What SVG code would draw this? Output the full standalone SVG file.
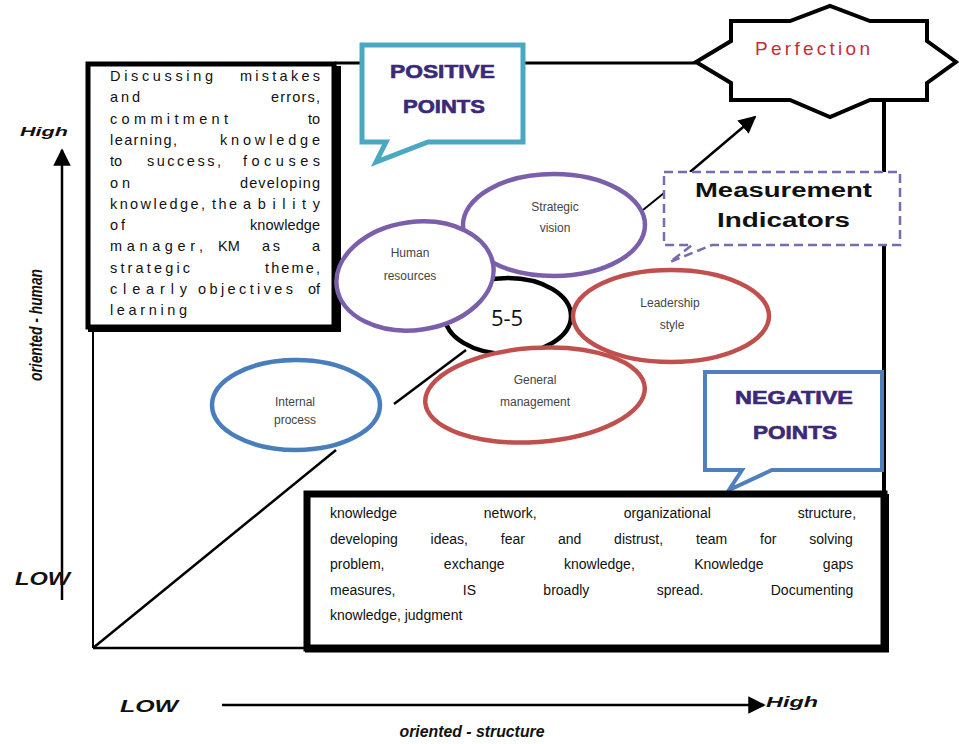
<svg xmlns="http://www.w3.org/2000/svg" width="959" height="744" viewBox="0 0 959 744">
<style>
.lw{font-family:"Liberation Sans",Arial,sans-serif;font-size:14.5px;fill:#111}
.bt{font-family:"Liberation Sans",Arial,sans-serif;font-size:14px;fill:#111}
.ax{font-family:"Liberation Sans",Arial,sans-serif;font-style:italic;font-weight:bold;fill:#111}
.el{fill:#fff;stroke-width:4.5}
.eltxt{font-family:"Liberation Sans",Arial,sans-serif;font-size:12px;fill:#444;text-anchor:middle}
.pts{font-family:"Liberation Sans",Arial,sans-serif;font-weight:900;font-size:18px;fill:#3b2a78;stroke:#3b2a78;stroke-width:0.6}
.ln{stroke:#000;fill:none}
</style>
<defs>
<marker id="ah" viewBox="0 0 10 10" refX="9" refY="5" markerWidth="7" markerHeight="7" orient="auto">
<path d="M0,0 L10,5 L0,10 Z" fill="#000"/>
</marker>
</defs>
<rect width="959" height="744" fill="#fff"/>

<g id="frame">
<line class="ln" x1="93" y1="63" x2="93" y2="648" stroke-width="2"/>
<line class="ln" x1="93" y1="648" x2="305" y2="648" stroke-width="2.5"/>
<line class="ln" x1="335" y1="63" x2="696" y2="63" stroke-width="3"/>
<line class="ln" x1="884" y1="100" x2="884" y2="650" stroke-width="4"/>
</g>

<g id="connectors">
<line class="ln" x1="93" y1="648" x2="336" y2="450" stroke-width="2.5"/>
<line class="ln" x1="394" y1="404" x2="466" y2="350" stroke-width="2.5"/>
<line class="ln" x1="643" y1="210" x2="664" y2="193" stroke-width="2"/>
<line class="ln" x1="690" y1="172" x2="755" y2="117" stroke-width="2.5" marker-end="url(#ah)"/>
<line class="ln" x1="62" y1="600" x2="62" y2="150" stroke-width="2.5" marker-end="url(#ah)"/>
<line class="ln" x1="222" y1="705" x2="764" y2="705" stroke-width="2.5" marker-end="url(#ah)"/>
</g>

<g id="axis-labels">
<text class="ax" x="20" y="136" font-size="13" textLength="48" lengthAdjust="spacingAndGlyphs">High</text>
<text class="ax" x="15" y="585" font-size="18" textLength="55" lengthAdjust="spacingAndGlyphs">LOW</text>
<text class="ax" x="120" y="712" font-size="17" textLength="58" lengthAdjust="spacingAndGlyphs">LOW</text>
<text class="ax" x="766" y="707" font-size="14" textLength="52" lengthAdjust="spacingAndGlyphs">High</text>
<text class="ax" x="472" y="737" font-size="17" font-weight="900" text-anchor="middle" textLength="145" lengthAdjust="spacingAndGlyphs">oriented - structure</text>
<text class="ax" transform="translate(42,325) rotate(-90)" font-size="18" font-weight="900" text-anchor="middle" textLength="112" lengthAdjust="spacingAndGlyphs">oriented - human</text>
</g>

<g id="positive-text-box">
<rect x="88" y="64" width="246" height="263" fill="#fff" stroke="#000" stroke-width="5"/>
<line class="ln" x1="337" y1="66" x2="337" y2="331" stroke-width="8"/>
<line class="ln" x1="88" y1="329" x2="341" y2="329" stroke-width="6"/>
<text class="lw" x="110" y="81" textLength="103" lengthAdjust="spacing">Discussing</text>
<text class="lw" x="240" y="81" textLength="80" lengthAdjust="spacing">mistakes</text>
<text class="lw" x="110" y="102" textLength="30" lengthAdjust="spacing">and</text>
<text class="lw" x="271" y="102" textLength="49" lengthAdjust="spacing">errors,</text>
<text class="lw" x="110" y="124" textLength="118" lengthAdjust="spacing">commitment</text>
<text class="lw" x="308" y="124">to</text>
<text class="lw" x="110" y="145" textLength="67" lengthAdjust="spacing">learning,</text>
<text class="lw" x="220" y="145" textLength="100" lengthAdjust="spacing">knowledge</text>
<text class="lw" x="110" y="166">to</text>
<text class="lw" x="147" y="166" textLength="74" lengthAdjust="spacing">success,</text>
<text class="lw" x="243" y="166" textLength="77" lengthAdjust="spacing">focuses</text>
<text class="lw" x="110" y="188" textLength="20" lengthAdjust="spacing">on</text>
<text class="lw" x="240" y="188" textLength="80" lengthAdjust="spacing">developing</text>
<text class="lw" x="110" y="209" textLength="95" lengthAdjust="spacing">knowledge,</text>
<text class="lw" x="212" y="209" textLength="25" lengthAdjust="spacing">the</text>
<text class="lw" x="243" y="209" textLength="77" lengthAdjust="spacing">ability</text>
<text class="lw" x="110" y="230" textLength="15" lengthAdjust="spacing">of</text>
<text class="lw" x="250" y="230" textLength="70" lengthAdjust="spacing">knowledge</text>
<text class="lw" x="110" y="251" textLength="93" lengthAdjust="spacing">manager,</text>
<text class="lw" x="218" y="251">KM</text>
<text class="lw" x="262" y="251" textLength="18" lengthAdjust="spacing">as</text>
<text class="lw" x="312" y="251">a</text>
<text class="lw" x="110" y="273" textLength="80" lengthAdjust="spacing">strategic</text>
<text class="lw" x="265" y="273" textLength="55" lengthAdjust="spacing">theme,</text>
<text class="lw" x="110" y="294" textLength="77" lengthAdjust="spacing">clearly</text>
<text class="lw" x="198" y="294" textLength="95" lengthAdjust="spacing">objectives</text>
<text class="lw" x="308" y="294">of</text>
<text class="lw" x="110" y="315" textLength="77" lengthAdjust="spacing">learning</text>
</g>

<g id="positive-points">
<path d="M362,45 H523 V142 H428 L376,162 L386,142 H362 Z" fill="#fff" stroke="#4aa9c1" stroke-width="5" stroke-linejoin="miter"/>
<text class="pts" x="390" y="78" textLength="105" lengthAdjust="spacingAndGlyphs">POSITIVE</text>
<text class="pts" x="403" y="113" textLength="82" lengthAdjust="spacingAndGlyphs">POINTS</text>
</g>

<g id="perfection">
<path d="M731,21 H790 L830,6 L870,21 H927 V41 L956,62 L927,83 V100 H870 L830,117 L790,100 H731 V83 L696,62 L731,41 Z" fill="#fff" stroke="#000" stroke-width="4" stroke-linejoin="miter"/>
<text x="755" y="55" font-family="Liberation Sans,Arial,sans-serif" font-size="19" fill="#c0303a" textLength="115" lengthAdjust="spacing">Perfection</text>
</g>

<g id="measurement-indicators">
<path d="M664,172 H900 V245 H712 L670,262 L692,245 H664 Z" fill="#fff" stroke="#7a6aae" stroke-width="2.5" stroke-dasharray="9,5"/>
<text x="695" y="197" font-family="Liberation Sans,Arial,sans-serif" font-weight="bold" font-size="20" fill="#111" textLength="177" lengthAdjust="spacingAndGlyphs">Measurement</text>
<text x="717" y="227" font-family="Liberation Sans,Arial,sans-serif" font-weight="bold" font-size="20" fill="#111" textLength="133" lengthAdjust="spacingAndGlyphs">Indicators</text>
</g>

<g id="node-5-5">
<ellipse class="el" cx="508" cy="316" rx="63" ry="38" stroke="#000"/>
<text x="507" y="326" font-family="Open Sans,Liberation Sans,sans-serif" font-size="22" fill="#111" text-anchor="middle">5-5</text>
</g>

<g id="strategic-vision">
<ellipse class="el" cx="554" cy="225" rx="91" ry="51" stroke="#7b5fab"/>
<text class="eltxt" x="555" y="211" fill="#555">Strategic</text>
<text class="eltxt" x="555" y="232" font-size="9" fill="#999">vision</text>
</g>

<g id="human-resources">
<ellipse class="el" cx="415" cy="276" rx="79" ry="54" stroke="#7b5fab" transform="rotate(-8 415 276)"/>
<text class="eltxt" x="410" y="257">Human</text>
<text class="eltxt" x="410" y="280" font-size="9" fill="#888">resources</text>
</g>

<g id="leadership-style">
<ellipse class="el" cx="671" cy="316" rx="98" ry="46" stroke="#c0504d"/>
<text class="eltxt" x="670" y="307">Leadership</text>
<text class="eltxt" x="672" y="329">style</text>
</g>

<g id="general-management">
<ellipse class="el" cx="535" cy="395" rx="110" ry="47" stroke="#c0504d" transform="rotate(-4 535 395)"/>
<text class="eltxt" x="535" y="384">General</text>
<text class="eltxt" x="535" y="406">management</text>
</g>

<g id="internal-process">
<ellipse class="el" cx="296" cy="405" rx="84" ry="45" stroke="#4a7ebb"/>
<text class="eltxt" x="295" y="406" fill="#666">Internal</text>
<text class="eltxt" x="295" y="424" font-size="11" fill="#777">process</text>
</g>

<g id="negative-points">
<path d="M705,372 H882 V470 H772 L729,490 L742,470 H705 Z" fill="#fff" stroke="#4f7fbd" stroke-width="4"/>
<text class="pts" x="735" y="404" textLength="118" lengthAdjust="spacingAndGlyphs">NEGATIVE</text>
<text class="pts" x="753" y="439" textLength="84" lengthAdjust="spacingAndGlyphs">POINTS</text>
</g>

<g id="negative-text-box">
<rect x="307" y="494" width="577" height="154" fill="#fff" stroke="#000" stroke-width="7"/>
<line class="ln" x1="885" y1="494" x2="885" y2="652" stroke-width="8"/>
<line class="ln" x1="305" y1="649" x2="889" y2="649" stroke-width="7"/>
<text class="bt" x="330" y="518" word-spacing="83">knowledge network, organizational structure,</text>
<text class="bt" x="330" y="544" word-spacing="29">developing ideas, fear and distrust, team for solving</text>
<text class="bt" x="330" y="569" word-spacing="55.5">problem, exchange knowledge, Knowledge gaps</text>
<text class="bt" x="330" y="595" word-spacing="63.5">measures, IS broadly spread. Documenting</text>
<text class="bt" x="330" y="620">knowledge, judgment</text>
</g>
</svg>
